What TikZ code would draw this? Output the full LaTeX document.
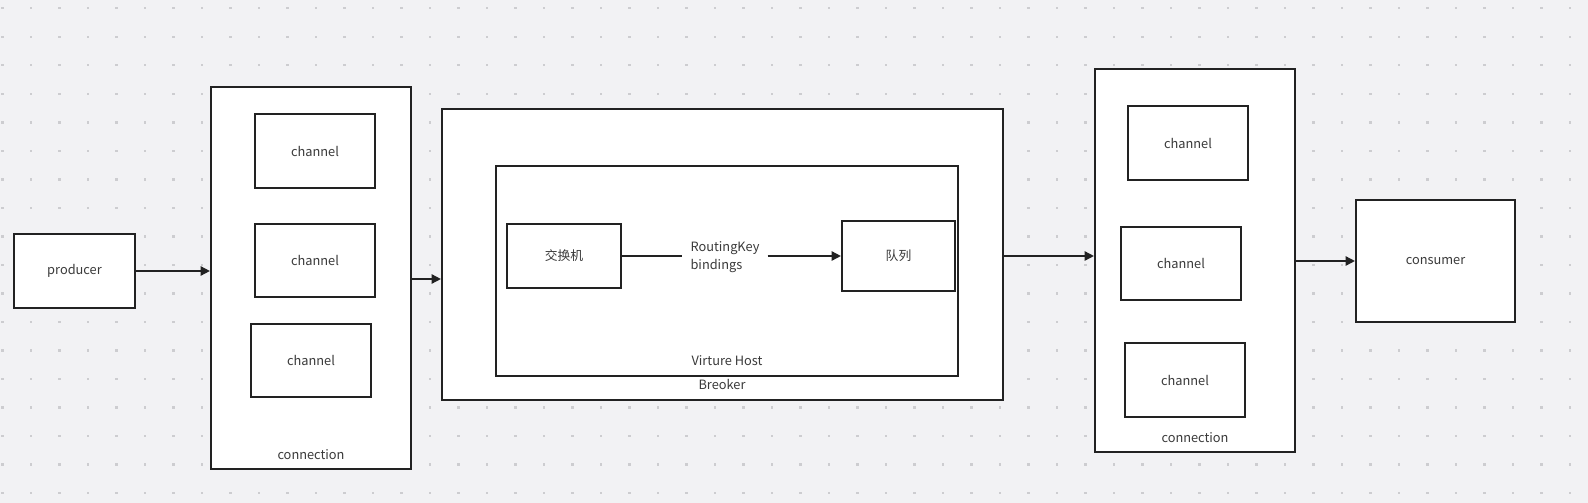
\documentclass[tikz,border=0pt]{standalone}
\usepackage{fontspec}
\setmainfont{Noto Sans CJK SC}
\usetikzlibrary{arrows.meta}
\definecolor{bgcolor}{HTML}{F2F2F4}
\definecolor{dotcolor}{HTML}{CDCDD0}
\definecolor{linecolor}{HTML}{222222}
\definecolor{textcolor}{HTML}{3A3A3A}
\tikzset{
  box/.style = {draw = linecolor, fill = white, line width = 1.6pt, inner sep = 0pt},
  lbl/.style = {text = textcolor, font = \fontsize{9.6pt}{12pt}\selectfont},
  link/.style = {draw = linecolor, line width = 1.2pt, -{Triangle[length = 7pt, width = 7pt]}}
}
\begin{document}
\begin{tikzpicture}[x = 0.75pt, y = -0.75pt]
\useasboundingbox[fill = bgcolor] (0,0) rectangle (1588,503);
\foreach \i in {0,...,55}
  \foreach \j in {0,...,17}
    \fill [dotcolor] (2.5+28.5*\i-1.2,8.3+28.5*\j-1.2) rectangle ++(2.4,2.4);
% producer side
\node [box, lbl, minimum width = 121*0.75pt, minimum height = 74*0.75pt] (producer) at (74.5,271) {producer};
\node [box, minimum width = 200*0.75pt, minimum height = 382*0.75pt] (connL) at (311,278) {};
\node [box, lbl, minimum width = 120*0.75pt, minimum height = 74*0.75pt] (chL1) at (315,151) {channel};
\node [box, lbl, minimum width = 120*0.75pt, minimum height = 73*0.75pt] (chL2) at (315,260.5) {channel};
\node [box, lbl, minimum width = 120*0.75pt, minimum height = 73*0.75pt] (chL3) at (311,360.5) {channel};
\node [lbl] (connLlbl) at (311,455) {connection};
% broker
\node [box, minimum width = 561*0.75pt, minimum height = 291*0.75pt] (broker) at (722.5,254.5) {};
\node [box, minimum width = 462*0.75pt, minimum height = 210*0.75pt] (vhost) at (727,271) {};
\node [lbl] (vhostlbl) at (727,361) {Virture Host};
\node [lbl] (brokerlbl) at (722,384) {Breoker};
\node [box, lbl, minimum width = 114*0.75pt, minimum height = 64*0.75pt] (exch) at (564,256) {交换机};
\node [box, lbl, minimum width = 113*0.75pt, minimum height = 70*0.75pt] (queue) at (898.5,256) {队列};
\node [lbl, font = \fontsize{9.6pt}{14pt}\selectfont, align = left, inner sep = 6pt] (rk) at (725,257) {RoutingKey\\bindings};
% consumer side
\node [box, minimum width = 200*0.75pt, minimum height = 383*0.75pt] (connR) at (1195,260.5) {};
\node [box, lbl, minimum width = 120*0.75pt, minimum height = 74*0.75pt] (chR1) at (1188,143) {channel};
\node [box, lbl, minimum width = 120*0.75pt, minimum height = 73*0.75pt] (chR2) at (1181,263.5) {channel};
\node [box, lbl, minimum width = 120*0.75pt, minimum height = 74*0.75pt] (chR3) at (1185,380) {channel};
\node [lbl] (connRlbl) at (1195,438) {connection};
\node [box, lbl, minimum width = 159*0.75pt, minimum height = 122*0.75pt] (consumer) at (1435.5,261) {consumer};
% links
\draw [link] (producer.east) -- (producer.east -| connL.west);
\draw [link] (connL.east |- 0,279) -- (broker.west |- 0,279);
\draw [link] (broker.east |- 0,256) -- (connR.west |- 0,256);
\draw [link] (connR.east |- consumer.west) -- (consumer.west);
\draw [draw = linecolor, line width = 1.2pt] (exch.east) -- (exch.east -| rk.west);
\draw [link] (rk.east |- queue.west) -- (queue.west);
\end{tikzpicture}
\end{document}
